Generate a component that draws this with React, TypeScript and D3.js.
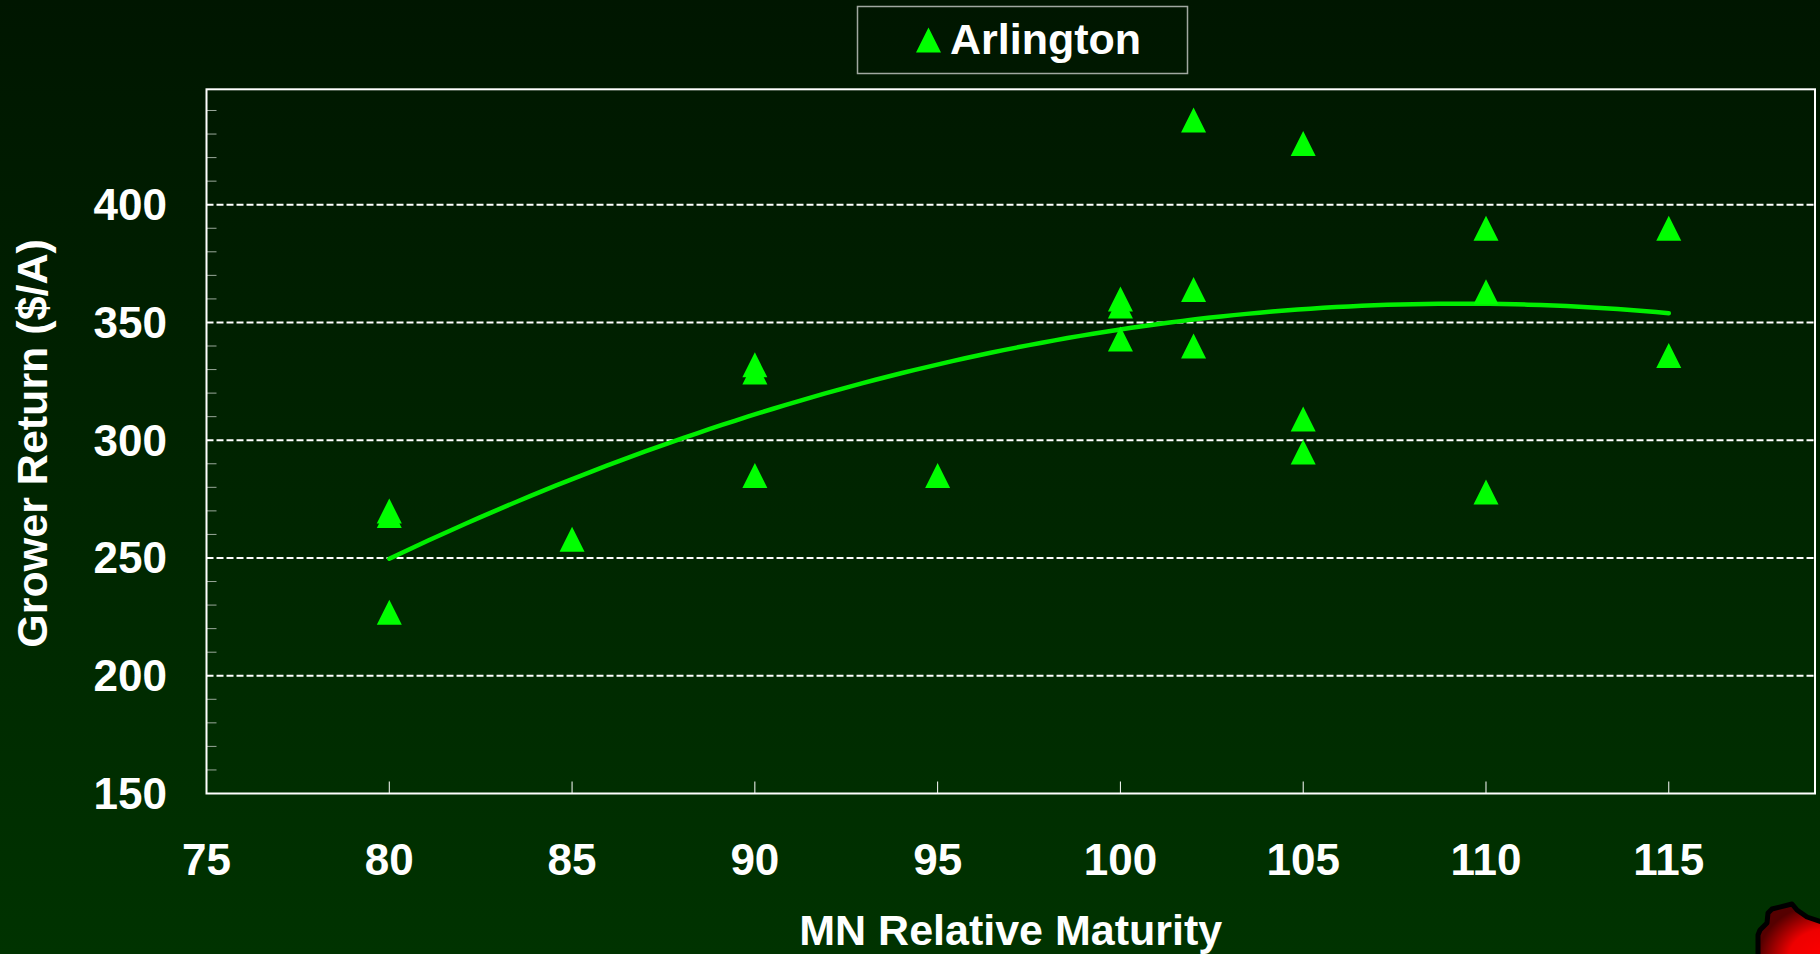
import React from "react";
import * as d3 from "d3";

// ---- data ----
const maturity: number[] = [80, 80, 80, 85, 90, 90, 90, 95, 100, 100, 100, 102, 102, 102, 105, 105, 105, 110, 110, 110, 115, 115];
const growerReturn: number[] = [270, 268, 227, 258, 332, 329, 285, 285, 360, 357, 343, 436, 364, 340, 426, 309, 295, 390, 363, 278, 390, 336];
const xTickValues: number[] = [75, 80, 85, 90, 95, 100, 105, 110, 115];
const yTickValues: number[] = [150, 200, 250, 300, 350, 400];
const gridValues: number[] = [200, 250, 300, 350, 400];
const seriesName = "Arlington";
const xTitle = "MN Relative Maturity";
const yTitle = "Grower Return ($/A)";

// quadratic least-squares trend from the data
function quadFit(xs: number[], ys: number[]) {
  const x0 = 100;
  let n = xs.length, s1 = 0, s2 = 0, s3 = 0, s4 = 0, sy = 0, sty = 0, st2y = 0;
  for (let i = 0; i < n; i++) {
    const t = xs[i] - x0, y = ys[i];
    s1 += t; s2 += t * t; s3 += t * t * t; s4 += t * t * t * t;
    sy += y; sty += t * y; st2y += t * t * y;
  }
  const M = [
    [n, s1, s2, sy],
    [s1, s2, s3, sty],
    [s2, s3, s4, st2y],
  ];
  for (let i = 0; i < 3; i++) {
    let p = i;
    for (let r = i + 1; r < 3; r++) if (Math.abs(M[r][i]) > Math.abs(M[p][i])) p = r;
    [M[i], M[p]] = [M[p], M[i]];
    for (let r = 0; r < 3; r++) {
      if (r === i) continue;
      const f = M[r][i] / M[i][i];
      for (let c = i; c < 4; c++) M[r][c] -= f * M[i][c];
    }
  }
  const a = M[0][3] / M[0][0], b = M[1][3] / M[1][1], c = M[2][3] / M[2][2];
  return (x: number) => a + b * (x - x0) + c * (x - x0) * (x - x0);
}

const W = 1820, H = 954;
const FONT = "'Liberation Sans', Arial, Helvetica, sans-serif";

export default function App() {
  const x = d3.scaleLinear().domain([75, 119]).range([206.5, 1815]);
  const y = d3.scaleLinear().domain([150, 449]).range([793.5, 89.3]);
  const fit = quadFit(maturity, growerReturn);
  const xMin = d3.min(maturity) as number, xMax = d3.max(maturity) as number;
  const trendPts = d3.range(0, 101).map((i) => xMin + ((xMax - xMin) * i) / 100);
  const line = d3.line<number>().x((d) => x(d)).y((d) => y(fit(d))).curve(d3.curveLinear);
  const minor = d3.range(160, 449, 10).filter((v) => v % 50 !== 0);
  const tri = "M0,-12.5L12.5,12.5L-12.5,12.5Z";
  const [x0, x1] = x.range();
  const [yb, yt] = y.range();

  return (
    <svg width={W} height={H} style={{ position: "absolute", left: 0, top: 0, display: "block" }}>
      <defs>
        <linearGradient id="bg" x1="0" y1="0" x2="0" y2="1">
          <stop offset="0%" stopColor="#001600" />
          <stop offset="100%" stopColor="#003300" />
        </linearGradient>
        <radialGradient id="blob" cx="1" cy="1" r="1">
          <stop offset="0%" stopColor="#ff0000" />
          <stop offset="55%" stopColor="#ee0000" />
          <stop offset="100%" stopColor="#550000" />
        </radialGradient>
      </defs>
      <rect x={0} y={0} width={W} height={H} fill="url(#bg)" />

      {/* gridlines */}
      {gridValues.map((v) => (
        <line key={"g" + v} x1={x0} x2={x1} y1={y(v)} y2={y(v)} stroke="#ffffff" strokeWidth={2} strokeDasharray="7,3" />
      ))}
      {/* minor y ticks */}
      {minor.map((v) => (
        <line key={"m" + v} x1={x0} x2={x0 + 10} y1={y(v)} y2={y(v)} stroke="#9aa89a" strokeWidth={1} />
      ))}
      {/* x ticks */}
      {xTickValues.slice(1).map((v) => (
        <line key={"xt" + v} x1={x(v)} x2={x(v)} y1={yb} y2={yb - 12} stroke="#ffffff" strokeWidth={1} />
      ))}
      {/* plot frame */}
      <rect x={x0} y={yt} width={x1 - x0} height={yb - yt} fill="none" stroke="#ffffff" strokeWidth={2} />

      {/* trend line */}
      <path d={line(trendPts) || ""} fill="none" stroke="#00ee00" strokeWidth={4.5} strokeLinecap="round" />

      {/* markers */}
      {maturity.map((m, i) => (
        <path key={"p" + i} d={tri} transform={`translate(${x(m)},${y(growerReturn[i])})`} fill="#00ff00" />
      ))}

      {/* tick labels */}
      {xTickValues.map((v) => (
        <text key={"xl" + v} x={x(v)} y={875} textAnchor="middle" fill="#ffffff" fontFamily={FONT} fontWeight="bold" fontSize={44}>
          {v}
        </text>
      ))}
      {yTickValues.map((v) => (
        <text key={"yl" + v} x={167} y={y(v) + 15.5} textAnchor="end" fill="#ffffff" fontFamily={FONT} fontWeight="bold" fontSize={44}>
          {v}
        </text>
      ))}

      {/* axis titles */}
      <text x={(x0 + x1) / 2} y={945} textAnchor="middle" fill="#ffffff" fontFamily={FONT} fontWeight="bold" fontSize={43}>
        {xTitle}
      </text>
      <text transform={`translate(47,${(yt + yb) / 2 + 2}) rotate(-90)`} textAnchor="middle" fill="#ffffff" fontFamily={FONT} fontWeight="bold" fontSize={43}>
        {yTitle}
      </text>

      {/* legend */}
      <rect x={857.5} y={6.5} width={330} height={67} fill="none" stroke="#a0a8a0" strokeWidth={1.5} />
      <path d={tri} transform="translate(928.5,40)" fill="#00ff00" />
      <text x={950} y={53.5} fill="#ffffff" fontFamily={FONT} fontWeight="bold" fontSize={43}>
        {seriesName}
      </text>

      {/* decorative corner shape */}
      <path
        d="M1758,960 L1758,935 L1760,930 L1767,923 L1768,913 L1772,909 L1792,904 L1797,910 L1807,917 L1825,923 L1825,960 Z"
        fill="url(#blob)"
        stroke="#000000"
        strokeWidth={5}
        strokeLinejoin="round"
      />
    </svg>
  );
}
